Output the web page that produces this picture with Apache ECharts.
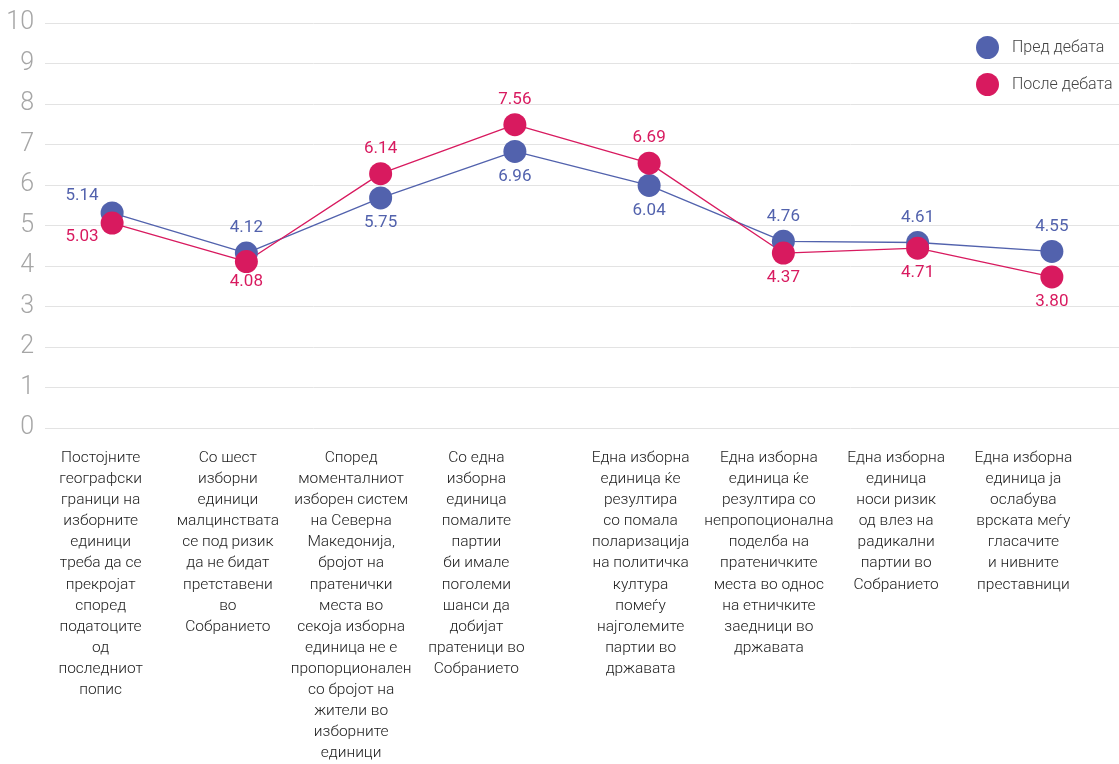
<!DOCTYPE html>
<html><head><meta charset="utf-8">
<script src="https://cdn.jsdelivr.net/npm/echarts@6/dist/echarts.min.js"></script>
<style>html,body{margin:0;padding:0;background:#fff}#c{width:1119px;height:764px}</style>
</head><body><div id="c"></div>
<script>
const categories = [
  'Постојните\nгеографски\nграници на\nизборните\nединици\nтреба да се\nпрекројат\nспоред\nподатоците\nод\nпоследниот\nпопис',
  'Со шест\nизборни\nединици\nмалцинствата\nсе под ризик\nда не бидат\nпретставени\nво\nСобранието',
  'Според\nмоменталниот\nизборен систем\nна Северна\nМакедонија,\nбројот на\nпратенички\nместа во\nсекоја изборна\nединица не е\nпропорционален\nсо бројот на\nжители во\nизборните\nединици',
  'Со една\nизборна\nединица\nпомалите\nпартии\nби имале\nпоголеми\nшанси да\nдобијат\nпратеници во\nСобранието',
  'Една изборна\nединица ќе\nрезултира\nсо помала\nполаризација\nна политичка\nкултура\nпомеѓу\nнајголемите\nпартии во\nдржавата',
  'Една изборна\nединица ќе\nрезултира со\nнепропоционална\nподелба на\nпратеничките\nместа во однос\nна етничките\nзаедници во\nдржавата',
  'Една изборна\nединица\nноси ризик\nод влез на\nрадикални\nпартии во\nСобранието',
  'Една изборна\nединица ја\nослабува\nврската меѓу\nгласачите\nи нивните\nпреставници'
];
const seriesNames = ['Пред дебата', 'После дебата'];
// plotted positions as drawn in the picture
const beforeValues = [5.31, 4.32, 5.68, 6.83, 5.99, 4.61, 4.58, 4.36];
const afterValues  = [5.06, 4.11, 6.28, 7.49, 6.54, 4.32, 4.44, 3.73];
// printed value labels
const beforeLabels = ['5.14', '4.12', '5.75', '6.96', '6.04', '4.76', '4.61', '4.55'];
const afterLabels  = ['5.03', '4.08', '6.14', '7.56', '6.69', '4.37', '4.71', '3.80'];
const yTicks = [0, 1, 2, 3, 4, 5, 6, 7, 8, 9, 10];

const BLUE = '#5262ad', RED = '#d81a5f';
const FONT = 'Roboto, sans-serif';
const beforePlace = [{position:'left', distance:2, offset:[0,-17]}, 'top','bottom','bottom','bottom','top','top','top'];
const afterPlace  = [{position:'left', distance:2, offset:[0,14]}, {position:'bottom', offset:[0,-5]}, 'top','top','top','bottom','bottom','bottom'];
// horizontal nudge of each category label (px), as in the original layout
const labelShift = [-2, -6, -14, -20, 13, 10, 6, 2];

function build(vals, labels, place) {
  return vals.map((v, i) => {
    const p = place[i];
    const lab = typeof p === 'string' ? {position: p} : Object.assign({}, p);
    lab.formatter = labels[i];
    return {value: v, label: lab};
  });
}

const catStyle = {fontFamily: FONT, fontWeight: 300, fontSize: 15.5, lineHeight: 21.1, color: '#222'};
const rich = {};
labelShift.forEach((s, i) => {
  rich['p' + i] = Object.assign({}, catStyle, {padding: s < 0 ? [0, -2 * s, 0, 0] : [0, 0, 0, 2 * s]});
});

const chart = echarts.init(document.getElementById('c'), null, {renderer: 'canvas'});
chart.setOption({
  animation: false,
  backgroundColor: '#fff',
  legend: {
    orient: 'vertical', left: 971, top: 31,
    icon: 'circle', itemWidth: 23, itemHeight: 23, itemGap: 14,
    textStyle: {fontFamily: FONT, fontWeight: 300, fontSize: 16, color: '#444', padding: [0,0,0,8]},
    data: seriesNames
  },
  grid: [
    {left: 45, right: -4, top: 23, bottom: 336, containLabel: false},
    {left: 37, right: 32, top: 23, bottom: 336, containLabel: false}
  ],
  xAxis: [
    {type: 'category', gridIndex: 0, data: categories, boundaryGap: true,
     axisLine: {show: false}, axisTick: {show: false}, axisLabel: {show: false}},
    {type: 'category', gridIndex: 1, data: categories, boundaryGap: true,
     axisLine: {show: false}, axisTick: {show: false},
     axisLabel: Object.assign({interval: 0, margin: 26, align: 'center', verticalAlign: 'top', rich: rich,
       formatter: (v, i) => v.split('\n').map(l => '{p' + i + '|' + l + '}').join('\n')}, catStyle)}
  ],
  yAxis: [
    {type: 'value', gridIndex: 0, min: 0, max: 10, interval: 1,
     axisLine: {show: false}, axisTick: {show: false},
     splitLine: {lineStyle: {color: '#e3e3e3', width: 1}},
     axisLabel: {margin: 11, fontFamily: FONT, fontWeight: 300, fontSize: 25, color: '#a6a6a6',
       formatter: v => yTicks.indexOf(v) >= 0 ? String(v) : ''}},
    {type: 'value', gridIndex: 1, min: 0, max: 10, show: false, splitLine: {show: false}}
  ],
  series: [
    {name: seriesNames[0], type: 'line', xAxisIndex: 0, yAxisIndex: 0,
     data: build(beforeValues, beforeLabels, beforePlace),
     symbol: 'circle', symbolSize: 23, color: BLUE,
     lineStyle: {color: BLUE, width: 1.3},
     label: {show: true, distance: 5, fontFamily: FONT, fontSize: 17, color: BLUE}},
    {name: seriesNames[1], type: 'line', xAxisIndex: 0, yAxisIndex: 0,
     data: build(afterValues, afterLabels, afterPlace),
     symbol: 'circle', symbolSize: 23, color: RED,
     lineStyle: {color: RED, width: 1.3},
     label: {show: true, distance: 5, fontFamily: FONT, fontSize: 17, color: RED}}
  ]
});
</script>
</body></html>
